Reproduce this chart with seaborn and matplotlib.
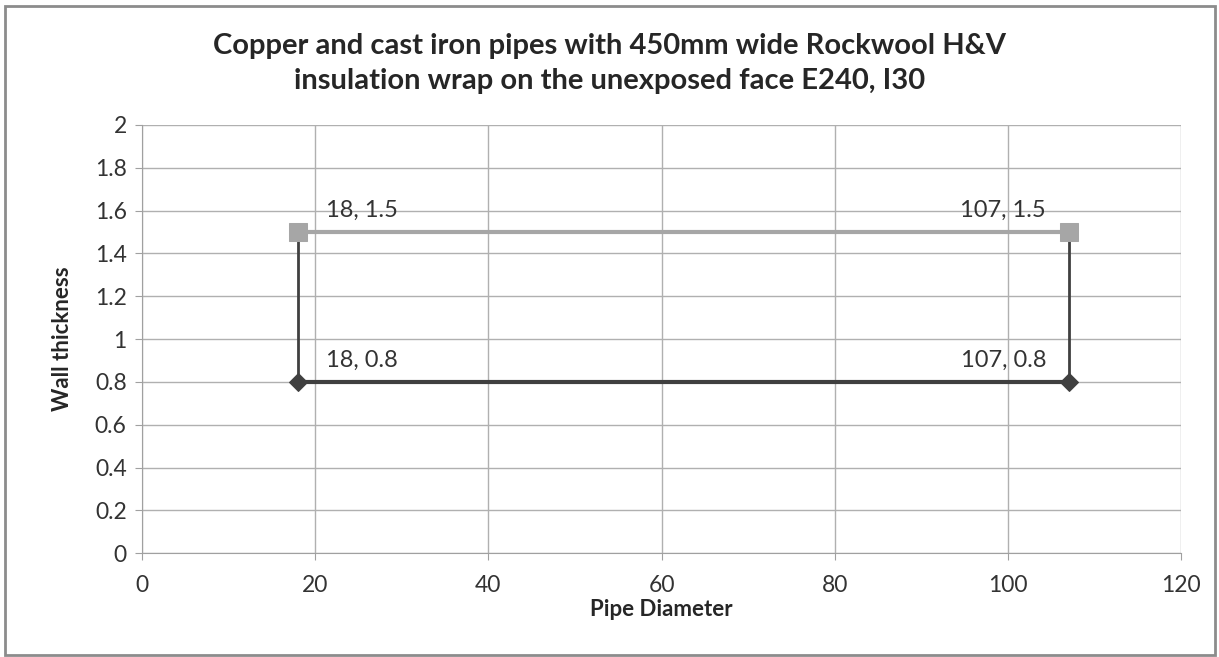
import matplotlib
matplotlib.use("Agg")
import matplotlib.pyplot as plt
import seaborn as sns
from matplotlib.patches import Rectangle

# data
cast_x = [18, 18, 107, 107]
cast_y = [1.5, 0.8, 0.8, 1.5]
copper_x = [18, 107]
copper_y = [1.5, 1.5]
point_labels = ["18, 1.5", "107, 1.5", "18, 0.8", "107, 0.8"]
label_x = [18, 107, 18, 107]
label_y = [1.5, 1.5, 0.8, 0.8]

sns.set_style("white")
plt.rcParams['font.family'] = ['Lato', 'DejaVu Sans']

fig = plt.figure(figsize=(12.19, 6.57), dpi=100)
ax = fig.add_axes([0.1165, 0.158, 0.8525, 0.652])

sns.lineplot(x=cast_x, y=cast_y, sort=False, estimator=None, ax=ax,
             color="#404040", lw=2, marker="D", markersize=9,
             markeredgecolor="#404040", zorder=3)
sns.lineplot(x=copper_x, y=copper_y, sort=False, estimator=None, ax=ax,
             color="#a6a6a6", lw=3, marker="s", markersize=13,
             markeredgecolor="#a6a6a6", zorder=4)
# bottom horizontal is thicker than the verticals
sns.lineplot(x=cast_x[1:3], y=cast_y[1:3], sort=False, estimator=None, ax=ax,
             color="#404040", lw=3, zorder=3)

for lx, ly, txt in zip(label_x, label_y, point_labels):
    if lx < 60:
        ax.text(lx + 3.2, ly + 0.05, txt, ha="left", va="bottom", fontsize=17, color="#333333")
    else:
        ax.text(lx - 2.6, ly + 0.05, txt, ha="right", va="bottom", fontsize=17, color="#333333")

ax.set_xlim(0, 120)
ax.set_ylim(0, 2)
ax.set_xticks(range(0, 121, 20))
ax.set_yticks([i / 10 for i in range(0, 21, 2)])
ax.set_yticklabels(["0", "0.2", "0.4", "0.6", "0.8", "1", "1.2", "1.4", "1.6", "1.8", "2"])
ax.grid(True, color="#b0b0b0", lw=1)
for s in ax.spines.values():
    s.set_visible(False)
ax.spines["left"].set_visible(True)
ax.spines["left"].set_color("#a0a0a0")
ax.spines["bottom"].set_visible(True)
ax.spines["bottom"].set_color("#a0a0a0")
ax.tick_params(axis="both", length=5, color="#a0a0a0", labelsize=16.5, labelcolor="#333333",
               direction="out", left=True, bottom=True)
ax.tick_params(axis="y", pad=6)
ax.tick_params(axis="x", pad=11)

ax.set_xlabel("Pipe Diameter", fontsize=16, fontweight="bold", labelpad=2)
ax.set_ylabel("Wall thickness", fontsize=16, fontweight="bold", labelpad=16)
fig.suptitle("Copper and cast iron pipes with 450mm wide Rockwool H&V\n"
             "insulation wrap on the unexposed face E240, I30",
             x=0.5, y=0.95, fontsize=21, fontweight="bold", linespacing=1.45)

fig.patches.append(Rectangle((0.004, 0.003), 0.993, 0.988, transform=fig.transFigure,
                             fill=False, edgecolor="#8c8c8c", lw=2))

fig.savefig("out.png", dpi=100)
